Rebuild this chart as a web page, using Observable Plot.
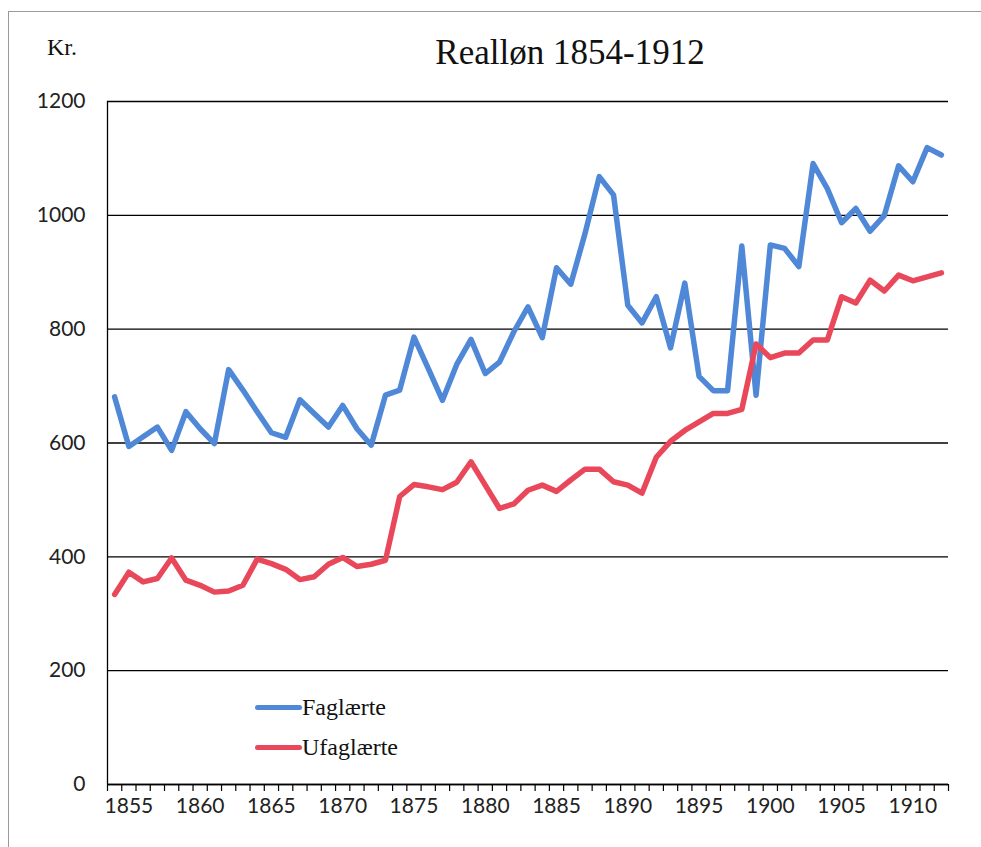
<!DOCTYPE html>
<html><head><meta charset="utf-8">
<script src="https://cdn.jsdelivr.net/npm/d3@7"></script>
<script src="https://cdn.jsdelivr.net/npm/@observablehq/plot@0.6"></script>
<style>
body{margin:0;background:#fff;}
#wrap{position:relative;width:981px;height:847px;overflow:hidden;background:#fff;}
#frame{position:absolute;left:8px;top:11px;width:975px;height:845px;border:1px solid #9a9a9a;box-sizing:border-box;}
#chart{position:absolute;left:0;top:0;}
.txt{position:absolute;font-family:"Liberation Serif","Times New Roman",serif;color:#111;white-space:nowrap;line-height:1;}
#title{left:570px;top:35px;font-size:35px;transform:translateX(-50%);}
#kr{left:47px;top:35px;font-size:24px;}
.leg{position:absolute;left:255px;width:47px;height:5px;border-radius:3px;}
.legt{left:302px;font-size:24px;}
</style></head>
<body>
<div id="wrap">
  <div id="frame"></div>
  <div id="chart"></div>
  <div class="txt" id="title">Realløn 1854-1912</div>
  <div class="txt" id="kr">Kr.</div>
  <div class="leg" id="l1" style="top:705px;background:#5088d8"></div>
  <div class="txt legt" style="top:695px">Faglærte</div>
  <div class="leg" id="l2" style="top:745px;background:#e8485a"></div>
  <div class="txt legt" style="top:735px">Ufaglærte</div>
</div>
<script>
const years = [1854,1855,1856,1857,1858,1859,1860,1861,1862,1863,1864,1865,1866,1867,1868,1869,1870,1871,1872,1873,1874,1875,1876,1877,1878,1879,1880,1881,1882,1883,1884,1885,1886,1887,1888,1889,1890,1891,1892,1893,1894,1895,1896,1897,1898,1899,1900,1901,1902,1903,1904,1905,1906,1907,1908,1909,1910,1911,1912];
const faglaerte = [681,594,611,628,587,655,625,599,729,693,655,618,610,676,652,628,666,625,596,684,693,786,731,675,738,782,722,742,795,839,785,908,879,968,1068,1036,842,811,857,767,881,717,692,692,946,684,948,942,910,1091,1047,987,1012,972,1000,1087,1059,1119,1106];
const ufaglaerte = [334,373,356,362,398,359,350,338,340,350,396,388,378,360,365,387,399,383,387,394,506,527,523,518,531,567,526,485,493,517,526,515,535,554,554,532,526,512,575,603,622,637,652,652,659,774,750,758,758,781,781,857,846,886,867,895,885,892,899];
const yTicks = [0,200,400,600,800,1000,1200];
const xLabels = [1855,1860,1865,1870,1875,1880,1885,1890,1895,1900,1905,1910];
const seriesNames = ["Faglærte","Ufaglærte"];
const seriesColors = ["#5088d8","#e8485a"];

const boundaries = years.map(y => y - 0.5).concat([years[years.length-1] + 0.5]);
const rows = years.flatMap((y,i) => [
  {year:y, value:faglaerte[i], series:seriesNames[0]},
  {year:y, value:ufaglaerte[i], series:seriesNames[1]}
]);

const chart = Plot.plot({
  width: 981, height: 847,
  marginLeft: 107, marginRight: 33, marginTop: 101, marginBottom: 63,
  x: {domain: [boundaries[0], boundaries[boundaries.length-1]]},
  y: {domain: [0, 1200]},
  color: {domain: seriesNames, range: seriesColors},
  style: {fontFamily: "Lato, 'Open Sans', sans-serif", fontSize: "21px", color: "#222", background: "transparent", overflow: "visible"},
  marks: [
    Plot.gridY(yTicks, {stroke: "#000", strokeOpacity: 1, strokeWidth: 1.3}),
    Plot.axisY(yTicks, {tickSize: 0, tickPadding: 22, label: null, tickFormat: d => String(d), fontSize: 21}),
    Plot.ruleX([boundaries[0]], {stroke: "#000", strokeWidth: 1.3}),
    Plot.axisX(boundaries, {tickSize: 7, tickFormat: () => "", label: null, stroke: "#000", strokeWidth: 1.2}),
    Plot.axisX(xLabels, {tickSize: 0, tickPadding: 14, label: null, tickFormat: d => String(d), fontSize: 21}),
    Plot.ruleY([0], {stroke: "#000", strokeWidth: 1.3}),
    Plot.line(rows, {x: "year", y: "value", z: "series", stroke: "series", strokeWidth: 5.5, strokeLinejoin: "round", strokeLinecap: "round"})
  ]
});
document.getElementById("chart").appendChild(chart);
</script>
</body></html>
